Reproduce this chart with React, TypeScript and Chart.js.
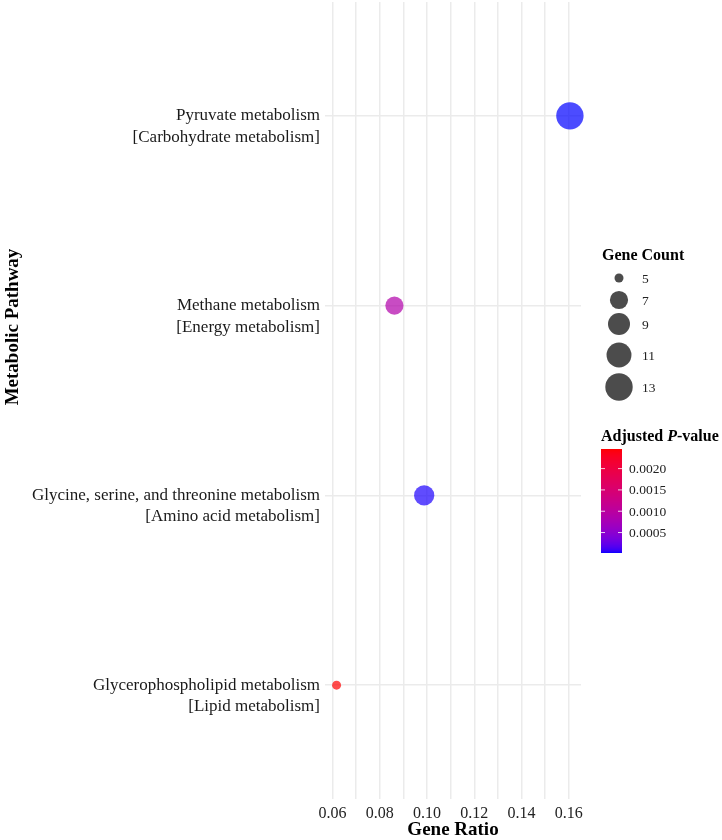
import React, { useEffect, useRef } from "react";
import { Chart, registerables } from "chart.js";

Chart.register(...registerables);

// Pathways ordered bottom -> top
const pathwayNames = [
  "Glycerophospholipid metabolism",
  "Glycine, serine, and threonine metabolism",
  "Methane metabolism",
  "Pyruvate metabolism",
];
const pathwayClasses = [
  "[Lipid metabolism]",
  "[Amino acid metabolism]",
  "[Energy metabolism]",
  "[Carbohydrate metabolism]",
];
const geneRatio = [0.0617, 0.0988, 0.0862, 0.1605];
const geneCount = [5, 8, 7, 13];
const pAdjusted = [0.00246, 0.00004, 0.00088, 0.00002];

const xTickValues = [0.06, 0.07, 0.08, 0.09, 0.1, 0.11, 0.12, 0.13, 0.14, 0.15, 0.16];
const sizeLegendValues = [5, 7, 9, 11, 13];
const colorLegendTicks = [0.0005, 0.001, 0.0015, 0.002];

const FONT = "'Liberation Serif', 'Times New Roman', serif";

// ggplot-like area scale
const countMin = Math.min(...sizeLegendValues);
const countMax = Math.max(...sizeLegendValues);
const R_MIN = 4.5;
const R_MAX = 13.7;
function radiusFor(v: number) {
  const t = Math.max(0, (v - countMin) / (countMax - countMin));
  return R_MIN + (R_MAX - R_MIN) * Math.sqrt(t);
}

// Lab gradient blue -> red
function srgbToLin(c: number) {
  c /= 255;
  return c <= 0.04045 ? c / 12.92 : Math.pow((c + 0.055) / 1.055, 2.4);
}
function linToSrgb(c: number) {
  const v = c <= 0.0031308 ? 12.92 * c : 1.055 * Math.pow(c, 1 / 2.4) - 0.055;
  return Math.round(Math.min(1, Math.max(0, v)) * 255);
}
const WX = 0.95047, WY = 1.0, WZ = 1.08883;
function fLab(t: number) {
  return t > 216 / 24389 ? Math.cbrt(t) : (24389 / 27 * t + 16) / 116;
}
function fInv(t: number) {
  const t3 = t * t * t;
  return t3 > 216 / 24389 ? t3 : (116 * t - 16) / (24389 / 27);
}
function rgbToLab(r: number, g: number, b: number) {
  const R = srgbToLin(r), G = srgbToLin(g), B = srgbToLin(b);
  const X = (0.4124 * R + 0.3576 * G + 0.1805 * B) / WX;
  const Y = (0.2126 * R + 0.7152 * G + 0.0722 * B) / WY;
  const Z = (0.0193 * R + 0.1192 * G + 0.9505 * B) / WZ;
  const fx = fLab(X), fy = fLab(Y), fz = fLab(Z);
  return [116 * fy - 16, 500 * (fx - fy), 200 * (fy - fz)];
}
function labToRgb(L: number, a: number, b: number) {
  const fy = (L + 16) / 116;
  const fx = fy + a / 500;
  const fz = fy - b / 200;
  const X = fInv(fx) * WX, Y = fInv(fy) * WY, Z = fInv(fz) * WZ;
  const R = 3.2406 * X - 1.5372 * Y - 0.4986 * Z;
  const G = -0.9689 * X + 1.8758 * Y + 0.0415 * Z;
  const B = 0.0557 * X - 0.204 * Y + 1.057 * Z;
  return [linToSrgb(R), linToSrgb(G), linToSrgb(B)];
}
const LOW = rgbToLab(0, 0, 255);
const HIGH = rgbToLab(255, 0, 0);
const pMin = Math.min(...pAdjusted);
const pMax = Math.max(...pAdjusted);
function colorFor(p: number, alpha = 1) {
  const t = Math.min(1, Math.max(0, (p - pMin) / (pMax - pMin)));
  const L = LOW[0] + (HIGH[0] - LOW[0]) * t;
  const a = LOW[1] + (HIGH[1] - LOW[1]) * t;
  const b = LOW[2] + (HIGH[2] - LOW[2]) * t;
  const [r, g, bb] = labToRgb(L, a, b);
  return `rgba(${r},${g},${bb},${alpha})`;
}

const overlayPlugin = {
  id: "overlay",
  afterDraw(chart: any) {
    const ctx = chart.ctx as CanvasRenderingContext2D;
    const area = chart.chartArea;
    ctx.save();
    // axis titles
    ctx.fillStyle = "#000";
    ctx.font = `bold 19px ${FONT}`;
    ctx.textAlign = "center";
    ctx.textBaseline = "middle";
    ctx.fillText("Gene Ratio", (area.left + area.right) / 2, 830);
    ctx.save();
    ctx.translate(13, 327);
    ctx.rotate(-Math.PI / 2);
    ctx.fillText("Metabolic Pathway", 0, 0);
    ctx.restore();

    // size legend
    ctx.textAlign = "left";
    ctx.font = `bold 16px ${FONT}`;
    ctx.fillText("Gene Count", 602, 256);
    const sizeY = [278, 300, 324, 355, 387];
    ctx.font = `13.5px ${FONT}`;
    sizeLegendValues.forEach((v, i) => {
      ctx.beginPath();
      ctx.fillStyle = "rgba(0,0,0,0.7)";
      ctx.arc(619, sizeY[i], radiusFor(v), 0, Math.PI * 2);
      ctx.fill();
      ctx.fillStyle = "#222";
      ctx.fillText(String(v), 642, sizeY[i] + 1);
    });

    // color legend
    ctx.fillStyle = "#000";
    ctx.font = `bold 16px ${FONT}`;
    let tx = 601;
    const ty = 437;
    ctx.fillText("Adjusted ", tx, ty);
    tx += ctx.measureText("Adjusted ").width;
    ctx.font = `italic bold 16px ${FONT}`;
    ctx.fillText("P", tx, ty);
    tx += ctx.measureText("P").width;
    ctx.font = `bold 16px ${FONT}`;
    ctx.fillText("-value", tx, ty);

    const barL = 601, barR = 622, barT = 449, barB = 553;
    const vTop = pMax, vBot = pMin;
    for (let y = barT; y < barB; y++) {
      const v = vTop - ((y + 0.5 - barT) / (barB - barT)) * (vTop - vBot);
      ctx.fillStyle = colorFor(v);
      ctx.fillRect(barL, y, barR - barL, 1);
    }
    ctx.font = `13.5px ${FONT}`;
    colorLegendTicks.forEach((v) => {
      const y = barT + ((vTop - v) / (vTop - vBot)) * (barB - barT);
      ctx.strokeStyle = "rgba(255,255,255,0.8)";
      ctx.lineWidth = 1;
      ctx.beginPath();
      ctx.moveTo(barL, y);
      ctx.lineTo(barL + 4, y);
      ctx.moveTo(barR - 4, y);
      ctx.lineTo(barR, y);
      ctx.stroke();
      ctx.fillStyle = "#222";
      ctx.fillText(v.toFixed(4), 629, y + 1);
    });
    ctx.restore();
  },
};

export default function App() {
  const ref = useRef<HTMLCanvasElement>(null);
  useEffect(() => {
    if (!ref.current) return;
    const points = geneRatio.map((x, i) => ({ x, y: i }));
    const chart = new Chart(ref.current, {
      type: "scatter",
      data: {
        datasets: [
          {
            data: points,
            pointRadius: geneCount.map((c) => radiusFor(c)),
            pointHoverRadius: geneCount.map((c) => radiusFor(c)),
            backgroundColor: pAdjusted.map((p) => colorFor(p, 0.7)),
            borderWidth: 0,
            clip: false,
          },
        ],
      },
      options: {
        responsive: false,
        animation: false,
        layout: { autoPadding: false, padding: { left: 0, right: 141, top: 2, bottom: 0 } },
        plugins: { legend: { display: false }, tooltip: { enabled: false } },
        scales: {
          x: {
            type: "linear",
            min: 0.0568,
            max: 0.1652,
            afterBuildTicks: (s: any) => {
              s.ticks = xTickValues.map((v) => ({ value: v }));
            },
            afterFit: (s: any) => {
              s.height = 41;
              s.paddingLeft = 0;
              s.paddingRight = 0;
            },
            grid: { color: "#ebebeb", lineWidth: 1.5, drawTicks: false },
            border: { display: false },
            ticks: {
              padding: 5,
              autoSkip: false,
              maxRotation: 0,
              color: "#222",
              font: { family: FONT, size: 16 },
              callback: (v: any) => {
                const k = Math.round(Number(v) * 100);
                return k % 2 === 0 ? Number(v).toFixed(2) : "";
              },
            },
          },
          y: {
            type: "linear",
            min: -0.6,
            max: 3.6,
            afterBuildTicks: (s: any) => {
              s.ticks = pathwayNames.map((_, i) => ({ value: i }));
            },
            afterFit: (s: any) => {
              s.width = 325;
              s.paddingTop = 0;
              s.paddingBottom = 0;
            },
            grid: { color: "#ebebeb", lineWidth: 1.5, drawTicks: false },
            border: { display: false },
            ticks: {
              padding: 5,
              autoSkip: false,
              labelOffset: 10.75,
              color: "#1a1a1a",
              font: { family: FONT, size: 17, lineHeight: 1.26 },
              callback: (v: any) => {
                const i = Math.round(Number(v));
                return [pathwayNames[i], pathwayClasses[i]];
              },
            },
          },
        },
      },
      plugins: [overlayPlugin],
    } as any);
    return () => chart.destroy();
  }, []);
  return (
    <div style={{ position: "absolute", left: 0, top: 0, width: 722, height: 840, background: "#fff" }}>
      <canvas ref={ref} width={722} height={840} style={{ width: 722, height: 840 }} />
    </div>
  );
}
